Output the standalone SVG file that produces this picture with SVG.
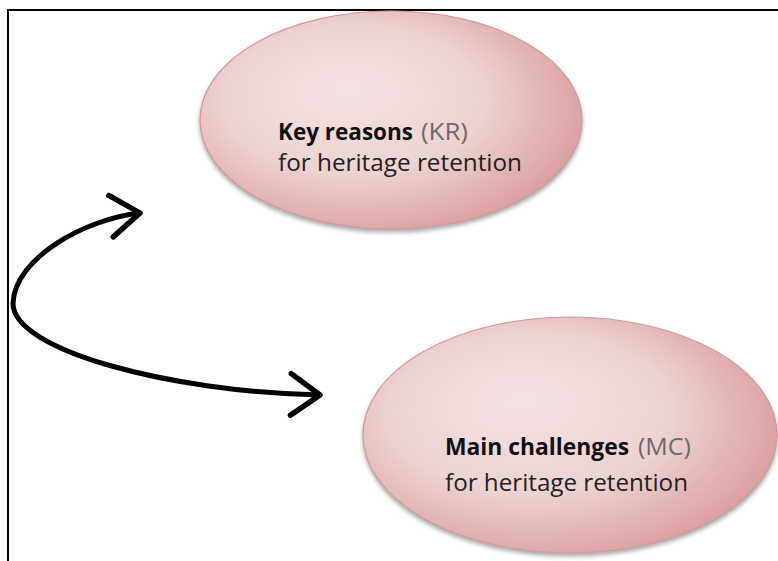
<svg xmlns="http://www.w3.org/2000/svg" width="778" height="561" viewBox="0 0 778 561">
  <defs>
    <radialGradient id="pinkFill" cx="0.42" cy="0.45" r="0.62" fx="0.38" fy="0.35">
      <stop offset="0" stop-color="#f4e4e4"/>
      <stop offset="0.55" stop-color="#eed2d2"/>
      <stop offset="1" stop-color="#d99c9c"/>
    </radialGradient>
    <filter id="softShadow" x="-10%" y="-10%" width="120%" height="125%">
      <feDropShadow dx="0" dy="3" stdDeviation="2" flood-color="#707070" flood-opacity="0.6"/>
    </filter>
    <marker id="chevron" viewBox="0 0 12 12" refX="10" refY="6" markerWidth="10" markerHeight="10" markerUnits="strokeWidth" orient="auto-start-reverse">
      <path d="M 3 1 L 10 6 L 3 11" fill="none" stroke="#000" stroke-width="1.3" stroke-linecap="round" stroke-linejoin="round"/>
    </marker>
    <style>
      .frame { stroke: #000; stroke-width: 2; fill: none; }
      .bubble { fill: url(#pinkFill); stroke: #d49898; stroke-width: 1.2; filter: url(#softShadow); }
      .label { font-family: "Open Sans", "Noto Sans", "Liberation Sans", sans-serif; font-size: 23px; fill: #222; }
      .strong { font-weight: bold; fill: #111; }
      .abbr { fill: #6a6a6a; }
      .link { fill: none; stroke: #000; stroke-width: 5; stroke-linecap: round; }
    </style>
  </defs>

  <rect width="778" height="561" fill="#fff"/>

  <!-- open frame: top and left edges -->
  <path class="frame" d="M 8 561 L 8 10 L 778 10"/>

  <g id="node-key-reasons">
    <ellipse class="bubble" cx="391" cy="120" rx="191" ry="109"/>
    <text class="label strong" x="278" y="140" textLength="135" lengthAdjust="spacingAndGlyphs">Key reasons</text>
    <text class="label abbr" x="421" y="140" textLength="47" lengthAdjust="spacingAndGlyphs">(KR)</text>
    <text class="label" x="278" y="171" textLength="244" lengthAdjust="spacingAndGlyphs">for heritage retention</text>
  </g>

  <g id="node-main-challenges">
    <ellipse class="bubble" cx="570" cy="435" rx="207" ry="118"/>
    <text class="label strong" x="445" y="455" textLength="184" lengthAdjust="spacingAndGlyphs">Main challenges</text>
    <text class="label abbr" x="638" y="455" textLength="53" lengthAdjust="spacingAndGlyphs">(MC)</text>
    <text class="label" x="445" y="491" textLength="243" lengthAdjust="spacingAndGlyphs">for heritage retention</text>
  </g>

  <g id="connectors">
    <!-- double-headed curved link between the two ellipses -->
    <path class="link" d="M 140 213 C 85 219, 15 258, 13 303 C 12 350, 170 392, 320 395" marker-start="url(#chevron)" marker-end="url(#chevron)"/>
  </g>
</svg>
